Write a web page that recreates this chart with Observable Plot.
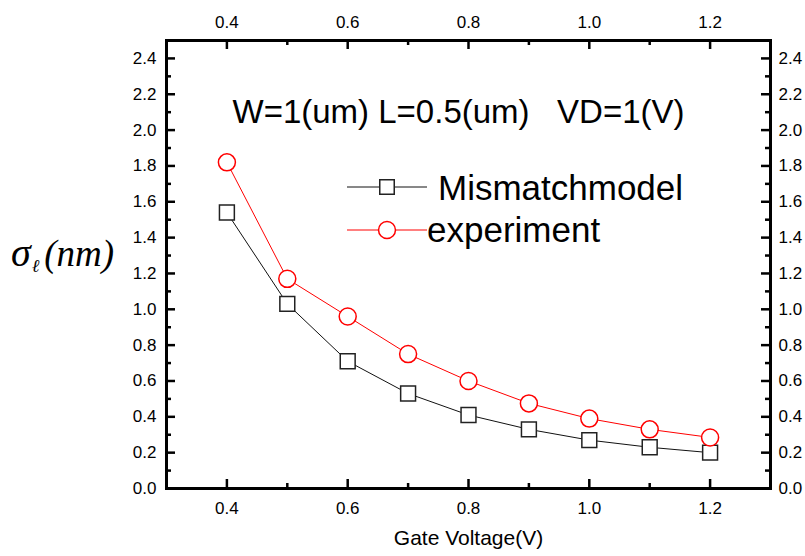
<!DOCTYPE html>
<html>
<head>
<meta charset="utf-8">
<script src="https://cdn.jsdelivr.net/npm/d3@7"></script>
<script src="https://cdn.jsdelivr.net/npm/@observablehq/plot@0.6"></script>
<style>
  html, body { margin: 0; padding: 0; background: #fff; }
</style>
</head>
<body>
<div id="chart"></div>
<script>
// ---- data ----
const gateVoltage   = [0.4, 0.5, 0.6, 0.7, 0.8, 0.9, 1.0, 1.1, 1.2];
const mismatchModel = [1.54, 1.03, 0.71, 0.53, 0.41, 0.33, 0.27, 0.23, 0.20];
const experiment    = [1.82, 1.17, 0.96, 0.75, 0.60, 0.475, 0.39, 0.33, 0.285];

const xMajorTicks = [0.4, 0.6, 0.8, 1.0, 1.2];
const xMinorTicks = [0.5, 0.7, 0.9, 1.1];
const yMajorTicks = [0.0, 0.2, 0.4, 0.6, 0.8, 1.0, 1.2, 1.4, 1.6, 1.8, 2.0, 2.2, 2.4];
const yMinorTicks = [0.1, 0.3, 0.5, 0.7, 0.9, 1.1, 1.3, 1.5, 1.7, 1.9, 2.1, 2.3];

const xLabel = "Gate Voltage(V)";
const annotation = "W=1(um) L=0.5(um)   VD=1(V)";
const seriesNames = ["Mismatchmodel", "experiment"];

const rows = gateVoltage.map((v, i) => ({v, model: mismatchModel[i], exp: experiment[i]}));

// ---- layout ----
const W = 805, H = 556, mL = 166, mR = 35, mT = 40, mB = 68;
const innerW = W - mL - mR, innerH = H - mT - mB;
const fmt = d3.format(".1f");
const major = 9, minor = 5;

const axisCommon = {tickSize: 0, tickFormat: fmt, fontSize: 17, label: null};

const chart = Plot.plot({
  width: W, height: H,
  marginLeft: mL, marginRight: mR, marginTop: mT, marginBottom: mB,
  style: {fontFamily: "'Liberation Sans', Arial, sans-serif", fontSize: "17px", background: "#fff", color: "#000", overflow: "visible"},
  x: {domain: [0.3, 1.3]},
  y: {domain: [0, 2.5]},
  marks: [
    Plot.axisX({...axisCommon, anchor: "bottom", ticks: xMajorTicks, tickPadding: 13}),
    Plot.axisX({...axisCommon, anchor: "top", ticks: xMajorTicks, tickPadding: 13}),
    Plot.axisY({...axisCommon, anchor: "left", ticks: yMajorTicks, tickPadding: 10}),
    Plot.axisY({...axisCommon, anchor: "right", ticks: yMajorTicks, tickPadding: 8}),
    // inward ticks
    Plot.ruleX(xMajorTicks, {insetTop: innerH - major, strokeWidth: 2.5}),
    Plot.ruleX(xMajorTicks, {insetBottom: innerH - major, strokeWidth: 2.5}),
    Plot.ruleX(xMinorTicks, {insetTop: innerH - minor, strokeWidth: 2.5}),
    Plot.ruleX(xMinorTicks, {insetBottom: innerH - minor, strokeWidth: 2.5}),
    Plot.ruleY(yMajorTicks, {insetRight: innerW - major, strokeWidth: 2.5}),
    Plot.ruleY(yMajorTicks, {insetLeft: innerW - major, strokeWidth: 2.5}),
    Plot.ruleY(yMinorTicks, {insetRight: innerW - minor, strokeWidth: 2.5}),
    Plot.ruleY(yMinorTicks, {insetLeft: innerW - minor, strokeWidth: 2.5}),
    // series
    Plot.line(rows, {x: "v", y: "model", stroke: "#111", strokeWidth: 1}),
    Plot.line(rows, {x: "v", y: "exp", stroke: "red", strokeWidth: 1}),
    Plot.dot(rows, {x: "v", y: "model", symbol: "square", r: 8.4, stroke: "#222", fill: "white", strokeWidth: 1.5}),
    Plot.dot(rows, {x: "v", y: "exp", symbol: "circle", r: 8.5, stroke: "red", fill: "white", strokeWidth: 1.5}),
    Plot.frame({stroke: "#000", strokeWidth: 3}),
    // texts
    Plot.text([xLabel], {frameAnchor: "bottom", dy: 50, fontSize: 21, lineAnchor: "middle"}),
    Plot.text([annotation], {frameAnchor: "top", dx: -10, dy: 72, fontSize: 33, lineAnchor: "middle"})
  ]
});

const svg = d3.select(chart);

// y-axis label: σ_ℓ(nm)
const yl = svg.append("text")
  .attr("x", 11).attr("y", 266)
  .attr("text-anchor", "start")
  .attr("font-family", "'Liberation Serif', 'Times New Roman', serif")
  .attr("font-style", "italic")
  .attr("fill", "#000");
yl.append("tspan").attr("font-size", 40).text("σ");
yl.append("tspan").attr("font-size", 18).attr("dy", 6).attr("dx", 1).text("ℓ");
yl.append("tspan").attr("font-size", 37).attr("dy", -6).attr("dx", 5).text("(nm)");

// legend
const legend = [
  {name: seriesNames[0], color: "#222", line: "#111", sym: d3.symbolSquare, ly: 187, tx: 438, ty: 200},
  {name: seriesNames[1], color: "red", line: "red", sym: d3.symbolCircle, ly: 230, tx: 427, ty: 242}
];
const lg = svg.append("g").attr("text-anchor", "start");
legend.forEach(d => {
  lg.append("line").attr("x1", 347).attr("x2", 427).attr("y1", d.ly).attr("y2", d.ly)
    .attr("stroke", d.line).attr("stroke-width", 1);
  lg.append("path").attr("d", d3.symbol(d.sym, d.sym === d3.symbolSquare ? 210 : 225)())
    .attr("transform", `translate(387,${d.ly})`)
    .attr("fill", "white").attr("stroke", d.color).attr("stroke-width", 1.5);
  lg.append("text").attr("x", d.tx).attr("y", d.ty)
    .attr("text-anchor", "start")
    .attr("font-family", "'Liberation Sans', Arial, sans-serif")
    .attr("font-size", 35).attr("fill", "#000").text(d.name);
});

document.getElementById("chart").appendChild(chart);
</script>
</body>
</html>
